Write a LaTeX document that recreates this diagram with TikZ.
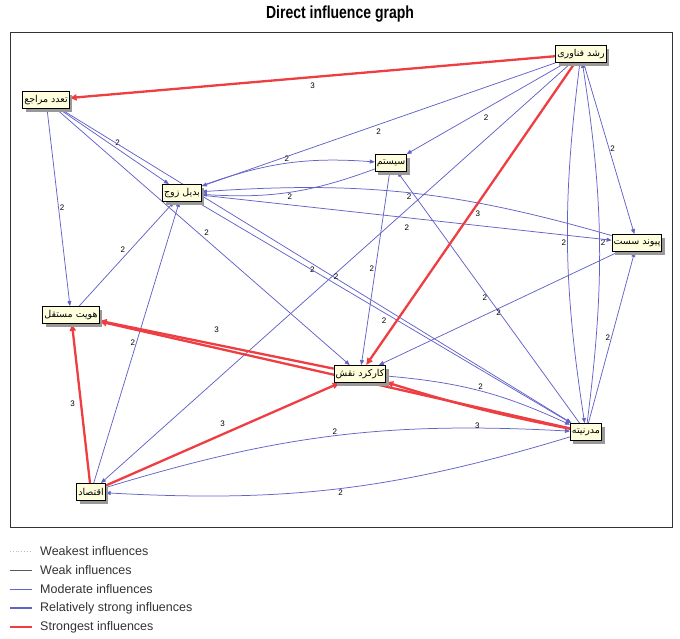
\documentclass[tikz,border=0pt]{standalone}
\usepackage{fontspec}
\setmainfont{Liberation Sans}
\newfontfamily\farsi[Script=Arabic]{DejaVu Sans}
\newfontfamily\titlefont[FakeStretch=0.8]{Liberation Sans}
\TeXXeTstate=1
\usetikzlibrary{arrows.meta,shadows,backgrounds}
\definecolor{bluemod}{RGB}{98,98,200}
\definecolor{redstrong}{RGB}{238,62,66}
\definecolor{cream}{RGB}{255,255,222}
\definecolor{legendgray}{RGB}{50,50,50}

\tikzset{
  factor/.style = {draw, line width=0.9pt, fill=cream, inner xsep=1.5pt, inner ysep=1pt, minimum height=17pt,
    font=\farsi\fontsize{9.5}{10}\selectfont,
    general shadow={fill=gray!80, shadow xshift=3pt, shadow yshift=-3pt}},
  modline/.style = {draw=bluemod, line width=0.75pt, -{Triangle[length=5pt,width=4pt]}},
  strongline/.style = {draw=redstrong, line width=2.3pt, -{Triangle[length=7pt,width=6pt]}},
  weight/.style = {font=\fontsize{8}{9}\selectfont, inner sep=1pt},
  legendtext/.style = {anchor=west, text=legendgray, font=\fontsize{12.5}{13}\selectfont, inner sep=0pt}
}

\begin{document}
\begin{tikzpicture}[x=1pt, y=-1pt]
  \useasboundingbox (0,0) rectangle (680,638);
  \node[font=\titlefont\bfseries\fontsize{17.5}{18}\selectfont] (title) at (340,14) {Direct influence graph};
  \draw[line width=1pt, draw=black!80] (10,32) rectangle (672,527);

  % factors
  \node[factor] (rushd)   at (581,54)  {\beginR رشد فناوری\endR};
  \node[factor] (taadod)  at (46,100)  {\beginR تعدد مراجع\endR};
  \node[factor] (sys)     at (391,163) {\beginR سیستم\endR};
  \node[factor] (badil)   at (182,193) {\beginR بدیل زوج\endR};
  \node[factor] (peyvand) at (637,243) {\beginR پیوند سست\endR};
  \node[factor] (hoviat)  at (71,315)  {\beginR هویت مستقل\endR};
  \node[factor] (karkard) at (360,374) {\beginR کارکرد نقش\endR};
  \node[factor] (modern)  at (586,432) {\beginR مدرنیته\endR};
  \node[factor] (eqtesad) at (91,492)  {\beginR اقتصاد\endR};

  \begin{pgfonlayer}{background}
  % moderate influences
  \draw[modline] (taadod) -- node[weight, above right] {2} (badil);
  \draw[modline] (taadod) -- node[weight, right] {2} (hoviat);
  \draw[modline] (taadod) -- node[weight, above right] {2} (karkard);
  \draw[modline] (taadod) -- node[weight, below left] {2} (modern);
  \draw[modline] (hoviat) -- node[weight, above left] {2} (badil);
  \draw[modline] (eqtesad) -- node[weight, left] {2} (badil);
  \draw[modline] (badil) to[bend left=12] node[weight, above] {2} (sys);
  \draw[modline] (sys) to[bend left=12] node[weight, below] {2} (badil);
  \draw[modline] (rushd) -- node[weight, below=3pt] {2} (badil);
  \draw[modline] (rushd) -- node[weight, below=5pt] {2} (sys);
  \draw[modline] (rushd) -- node[weight, right] {2} (peyvand);
  \draw[modline] (rushd) -- node[weight, below] {2} (eqtesad);
  \draw[modline] (rushd) to[bend right=8] node[weight, left] {2} (modern);
  \draw[modline] (modern) to[bend right=8] node[weight, right] {2} (rushd);
  \draw[modline] (peyvand) to[bend right=10] node[weight, below] {2} (badil);
  \draw[modline] (badil) -- node[weight, below=6pt] {2} (peyvand);
  \draw[modline] (sys) -- node[weight, left] {2} (karkard);
  \draw[modline] (modern) -- node[weight, left] {2} (sys);
  \draw[modline] (badil) -- node[weight, below=4pt] {2} (modern);
  \draw[modline] (peyvand) -- node[weight, below] {2} (karkard);
  \draw[modline] (modern) -- node[weight, left] {2} (peyvand);
  \draw[modline] (karkard) to[bend left=10] node[weight, above] {2} (modern);
  \draw[modline] (eqtesad) to[bend left=10] node[weight, above] {2} (modern);
  \draw[modline] (modern) to[bend left=10] node[weight, below] {2} (eqtesad);
  % strongest influences
  \draw[strongline] (rushd) -- node[weight, below=4pt] {3} (taadod);
  \draw[strongline] (rushd) -- node[weight, right=3pt] {3} (karkard);
  \draw[strongline] (karkard) -- node[weight, above=10pt] {3} (hoviat);
  \draw[strongline] (modern) -- (hoviat);
  \draw[strongline] (eqtesad) -- node[weight, above=6pt] {3} (karkard);
  \draw[strongline] (eqtesad) -- node[weight, left=4pt] {3} (hoviat);
  \draw[strongline] (modern) to[bend left=3] node[weight, below=12pt] {3} (karkard);
  \end{pgfonlayer}

  % legend
  \draw[gray!50, dotted, line width=0.8pt] (10,551) -- (32,551);
  \node[legendtext] (lgweakest) at (40,551) {Weakest influences};
  \draw[black!65, line width=0.8pt] (10,570) -- (32,570);
  \node[legendtext] (lgweak) at (40,570) {Weak influences};
  \draw[bluemod, line width=0.8pt] (10,589) -- (32,589);
  \node[legendtext] (lgmoderate) at (40,589) {Moderate influences};
  \draw[bluemod, line width=2.2pt] (10,608) -- (32,608);
  \node[legendtext] (lgrelstrong) at (40,608) {Relatively strong influences};
  \draw[redstrong, line width=2.2pt] (10,627) -- (32,627);
  \node[legendtext] (lgstrongest) at (40,627) {Strongest influences};
\end{tikzpicture}
\end{document}
